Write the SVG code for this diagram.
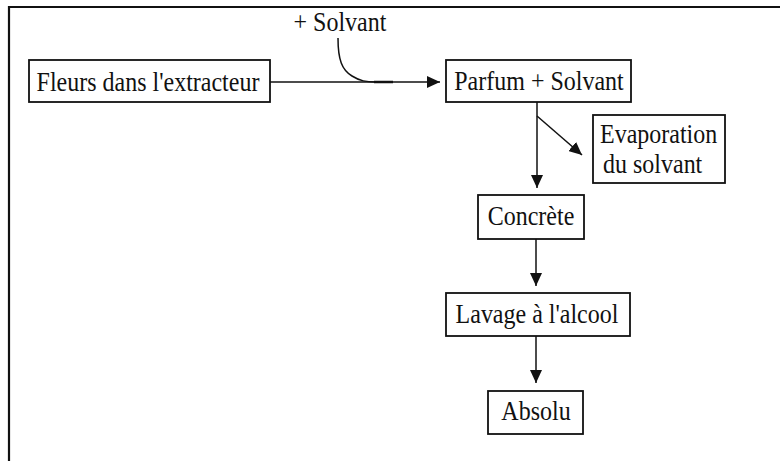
<svg xmlns="http://www.w3.org/2000/svg" width="780" height="461" viewBox="0 0 780 461">
<defs>
<style>
.box{fill:#fff;stroke:#111;stroke-width:1.8}
.t{font-family:"Liberation Serif","Times New Roman",serif;font-size:24px;fill:#111}
.c{fill:none;stroke:#111;stroke-width:1.5}
</style>
<marker id="ah" markerUnits="userSpaceOnUse" markerWidth="14" markerHeight="12" refX="13" refY="6" orient="auto">
<path d="M0,0 L13,6 L0,12 z" fill="#111"/>
</marker>
</defs>
<rect width="780" height="461" fill="#fff"/>
<g id="frame">
<path d="M9,461 V7 H780" fill="none" stroke="#111" stroke-width="2.2"/>
</g>
<g id="connectors">
<path class="c" d="M270,82 H440" marker-end="url(#ah)"/>
<path class="c" d="M338,38 C338,60 342,70 352,76 C360,81 366,82 376,82"/>
<path d="M374,82 H393" stroke="#111" stroke-width="2.5"/>
<path class="c" d="M537,102 V188" marker-end="url(#ah)"/>
<path class="c" d="M537,116 L582,155" marker-end="url(#ah)"/>
<path class="c" d="M536,239 V286" marker-end="url(#ah)"/>
<path class="c" d="M536,336 V383" marker-end="url(#ah)"/>
</g>
<g id="solvant-label">
<text class="t" transform="translate(340,31) scale(1,1.1)" text-anchor="middle">+ Solvant</text>
</g>
<g id="fleurs">
<rect class="box" x="29" y="60" width="241" height="42"/>
<text class="t" transform="translate(148,91) scale(1,1.1)" text-anchor="middle">Fleurs dans l'extracteur</text>
</g>
<g id="parfum">
<rect class="box" x="446" y="60" width="185" height="42"/>
<text class="t" transform="translate(539,90) scale(1,1.1)" text-anchor="middle">Parfum + Solvant</text>
</g>
<g id="evaporation">
<rect class="box" x="593" y="115" width="132" height="68"/>
<text class="t" transform="translate(600,143) scale(1,1.1)">Evaporation</text>
<text class="t" transform="translate(603,173) scale(1,1.1)">du solvant</text>
</g>
<g id="concrete">
<rect class="box" x="478" y="195" width="106" height="44"/>
<text class="t" transform="translate(531,225) scale(1,1.1)" text-anchor="middle">Concrète</text>
</g>
<g id="lavage">
<rect class="box" x="446" y="293" width="184" height="43"/>
<text class="t" transform="translate(537,323) scale(1,1.1)" text-anchor="middle">Lavage à l'alcool</text>
</g>
<g id="absolu">
<rect class="box" x="488" y="391" width="95" height="43"/>
<text class="t" transform="translate(536,420) scale(1,1.1)" text-anchor="middle">Absolu</text>
</g>
</svg>
